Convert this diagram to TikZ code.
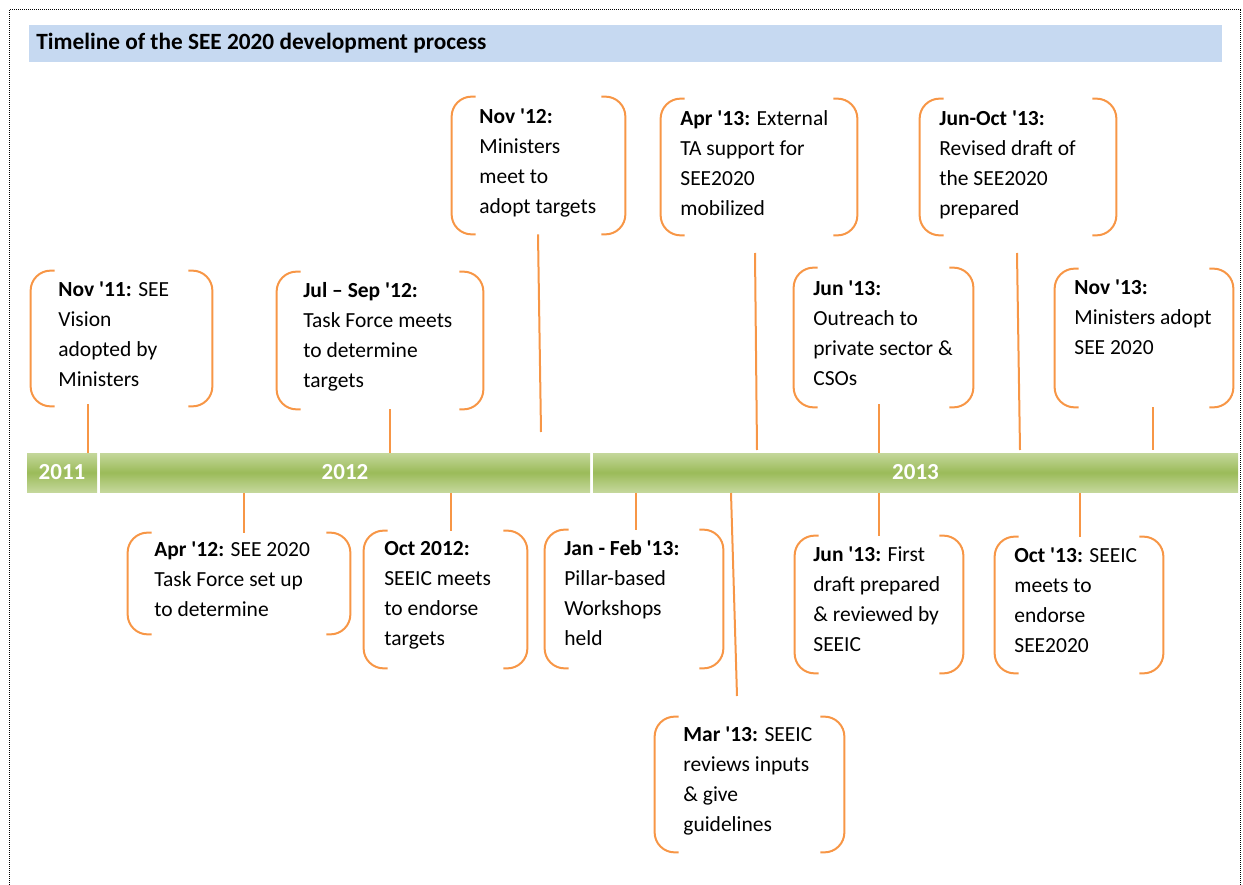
\documentclass[tikz,border=0pt]{standalone}
\usepackage{fontspec}
\setmainfont{Carlito}[Ligatures=TeXOff]
\usetikzlibrary{fit}

\definecolor{evorange}{RGB}{247,150,70}
\definecolor{barlight}{RGB}{196,215,155}
\definecolor{bardark}{RGB}{155,187,89}
\definecolor{titleblue}{RGB}{198,217,241}

\tikzset{every picture/.style={line width=0.75pt}}
\tikzset{
  bracket/.style={draw=evorange, line width=2pt, rounded corners=20pt},
  link/.style={draw=evorange, line width=2pt},
  evarea/.style={inner sep=0pt, draw=none},
  evtext/.style={anchor=north west, inner sep=0pt, align=left, font=\fontsize{21.5}{30}\selectfont,
    execute at begin node=\rule{0pt}{17pt}},
  yearbar/.style={inner sep=0pt, draw=none, top color=barlight, bottom color=barlight, middle color=bardark},
  yearlabel/.style={text=white, font=\fontsize{23}{26}\selectfont\bfseries},
}

% bracket pair round an event area
\newcommand\bracketpair[1]{%
  \draw[bracket] ([xshift=24pt]#1.north west) -- (#1.north west) -- (#1.south west) -- ([xshift=24pt]#1.south west);
  \draw[bracket] ([xshift=-24pt]#1.north east) -- (#1.north east) -- (#1.south east) -- ([xshift=-24pt]#1.south east);}

\begin{document}
\begin{tikzpicture}[x=1pt,y=-1pt]
\useasboundingbox (0,0) rectangle (1243,885);

%Frame
\draw [densely dotted, line width=1pt] (9,10) rectangle (1240,900);

%Title bar
\fill [titleblue] (29,25) rectangle (1222,62);
% Text Node
\node [anchor=base west, inner sep=0pt, font=\fontsize{23.3}{26}\selectfont\bfseries] (title) at (36,50) {Timeline of the SEE 2020 development process};

%Year bars
\node [yearbar, fit={(27,453) (97,492)}] (y2011) {};
\node [yearbar, fit={(100,453) (590,492)}] (y2012) {};
\node [yearbar, fit={(593,453) (1238,492)}] (y2013) {};
\node [yearlabel] at (y2011) {2011};
\node [yearlabel] at (y2012) {2012};
\node [yearlabel] at (y2013) {2013};

%Event areas above the bar
\node [evarea, fit={(31,271) (212,406)}] (nov11) {};
\node [evarea, fit={(277,272) (483,409)}] (julsep12) {};
\node [evarea, fit={(452,97) (625,234)}] (nov12) {};
\node [evarea, fit={(661,99) (857,235)}] (apr13) {};
\node [evarea, fit={(920,99) (1116,235)}] (junoct13) {};
\node [evarea, fit={(794,268) (973,407)}] (jun13out) {};
\node [evarea, fit={(1055,269) (1233,407)}] (nov13) {};
%Event areas below the bar
\node [evarea, fit={(128,533) (350,634)}] (apr12) {};
\node [evarea, fit={(364,531) (527,668)}] (oct12) {};
\node [evarea, fit={(545,530) (723,668)}] (janfeb13) {};
\node [evarea, fit={(655,717) (844,852)}] (mar13) {};
\node [evarea, fit={(795,536) (963,673)}] (jun13draft) {};
\node [evarea, fit={(995,537) (1163,673)}] (oct13) {};

\foreach \ev in {nov11,julsep12,nov12,apr13,junoct13,jun13out,nov13,apr12,oct12,janfeb13,mar13,jun13draft,oct13}
  {\bracketpair{\ev}}

% Text Node
\node [evtext] (nov11t) at (58,281) {\textbf{Nov '11:} SEE\\Vision\\adopted by\\Ministers};
% Text Node
\node [evtext] (julsep12t) at (303,282) {\textbf{Jul – Sep '12:}\\Task Force meets\\to determine\\targets};
% Text Node
\node [evtext] (nov12t) at (479,108) {\textbf{Nov '12:}\\Ministers\\meet to\\adopt targets};
% Text Node
\node [evtext] (apr13t) at (680,110) {\textbf{Apr '13:} External\\TA support for\\SEE2020\\mobilized};
% Text Node
\node [evtext] (junoct13t) at (939,110) {\textbf{Jun-Oct '13:}\\Revised draft of\\the SEE2020\\prepared};
% Text Node
\node [evtext] (jun13outt) at (813,280) {\textbf{Jun '13:}\\Outreach to\\private sector \&\\CSOs};
% Text Node
\node [evtext] (nov13t) at (1074,279) {\textbf{Nov '13:}\\Ministers adopt\\SEE 2020};
% Text Node
\node [evtext] (apr12t) at (154,541) {\textbf{Apr '12:} SEE 2020\\Task Force set up\\to determine};
% Text Node
\node [evtext] (oct12t) at (384,541) {\textbf{Oct 2012:}\\SEEIC meets\\to endorse\\targets};
% Text Node
\node [evtext] (janfeb13t) at (564,540) {\textbf{Jan - Feb '13:}\\Pillar-based\\Workshops\\held};
% Text Node
\node [evtext] (mar13t) at (683,726) {\textbf{Mar '13:} SEEIC\\reviews inputs\\\& give\\guidelines};
% Text Node
\node [evtext] (jun13draftt) at (813,546) {\textbf{Jun '13:} First\\draft prepared\\\& reviewed by\\SEEIC};
% Text Node
\node [evtext] (oct13t) at (1014,547) {\textbf{Oct '13:} SEEIC\\meets to\\endorse\\SEE2020};

%Pins on the bar
\coordinate (p11) at (88,453);
\coordinate (p12a) at (390,453);
\coordinate (p12b) at (541,432);
\coordinate (p13a) at (757,450);
\coordinate (p13b) at (1020,450);
\coordinate (p13c) at (879,453);
\coordinate (p13d) at (1153,450);
\coordinate (q12a) at (244,493);
\coordinate (q12b) at (451,493);
\coordinate (q13a) at (636,493);
\coordinate (q13b) at (731,493);
\coordinate (q13c) at (879,493);
\coordinate (q13d) at (1080,493);

%Straight Lines
\draw [link] (nov11.south -| p11) ++(0,-2) -- (p11);
\draw [link] (julsep12.south -| p12a) -- (p12a);
\draw [link] (nov12.south -| 538,0) -- (p12b);
\draw [link] (755,253) -- (p13a);
\draw [link] (1017,253) -- (p13b);
\draw [link] (jun13out.south -| p13c) ++(0,-3) -- (p13c);
\draw [link] (nov13.south -| p13d) -- (p13d);
\draw [link] (q12a) -- (apr12.north -| q12a) ++(0,4);
\draw [link] (q12b) -- (oct12.north -| q12b) ++(0,5);
\draw [link] (q13a) -- (janfeb13.north -| q13a) ++(0,7);
\draw [link] (q13b) -- (737,696);
\draw [link] (q13c) -- (jun13draft.north -| q13c);
\draw [link] (q13d) -- (oct13.north -| q13d);

\end{tikzpicture}
\end{document}
